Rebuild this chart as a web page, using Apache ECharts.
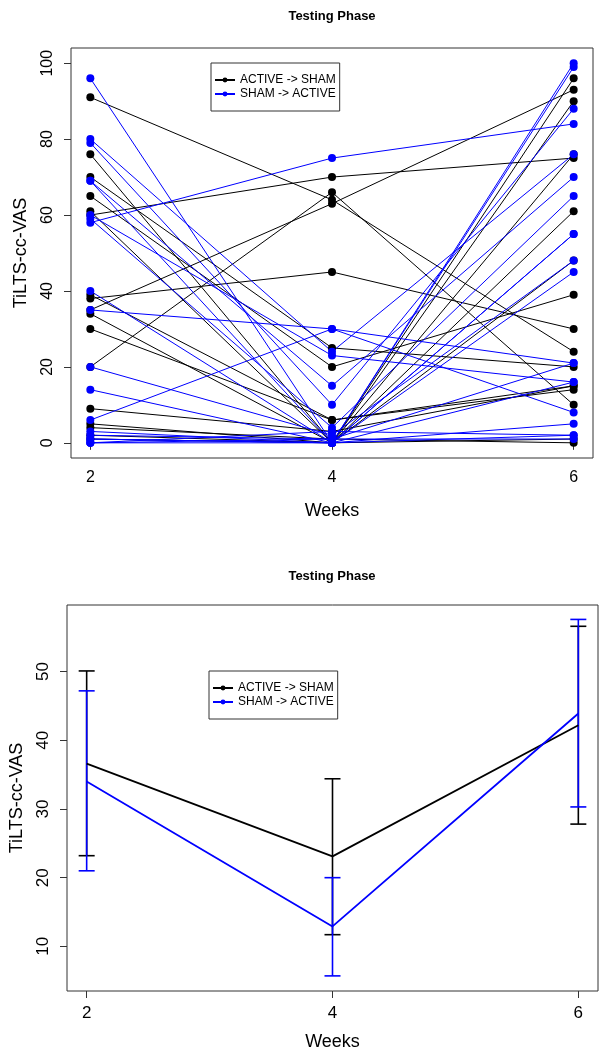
<!DOCTYPE html>
<html>
<head>
<meta charset="utf-8">
<script src="https://cdn.jsdelivr.net/npm/echarts@6/dist/echarts.min.js"></script>
<style>
html, body { margin: 0; padding: 0; background: #fff; }
#charts { width: 600px; height: 1055px; }
</style>
</head>
<body>
<div id="charts"></div>
<script>
// weeks on the x axis
var weeks = [2, 4, 6];
var groupNames = ['ACTIVE -> SHAM', 'SHAM -> ACTIVE'];

// one row per subject: score at week 2, 4, 6
var activeToSham = [
    [91, 64, 24], [76, 0, 96], [70, 25, 20], [65, 20, 39], [61, 0, 90],
    [60, 70, 75], [39, 6, 15], [38, 45, 30], [35, 63, 93], [34, 0, 61],
    [30, 6, 14], [20, 66, 10], [9, 3, 15], [5, 0, 1], [4, 1, 0],
    [2, 0, 76], [1, 0, 48]
];
var shamToActive = [
    [96, 0, 100], [80, 24, 76], [79, 10, 88], [69, 0, 99], [69, 15, 70],
    [60, 23, 16], [59, 4, 65], [58, 75, 84], [40, 0, 55], [35, 30, 21],
    [20, 2, 48], [14, 0, 45], [6, 30, 8], [3, 0, 5], [1, 0, 2],
    [0, 1, 1], [0, 3, 2], [0, 0, 55], [2, 1, 21], [1, 0, 16]
];

// group means and error bar ends (bottom panel)
var meanActive = [36.6, 23.1, 42.2];
var lowActive = [23.2, 11.7, 27.8];
var highActive = [50.1, 34.4, 56.6];
var meanSham = [34.0, 12.9, 43.9];
var lowSham = [21.0, 5.7, 30.3];
var highSham = [47.2, 20.0, 57.6];

var topTicks = [0, 20, 40, 60, 80, 100];
var bottomTicks = [10, 20, 30, 40, 50];

var BLACK = '#000000';
var BLUE = '#0000ff';
var FONT = 'Liberation Sans, Arial, sans-serif';

function pairs(vals) {
    return weeks.map(function (w, i) { return [w, vals[i]]; });
}

function subjectSeries(rows, name, color) {
    return rows.map(function (row) {
        return {
            type: 'line',
            name: name,
            xAxisIndex: 0,
            yAxisIndex: 0,
            data: pairs(row),
            symbol: 'circle',
            symbolSize: 8,
            lineStyle: { color: color, width: 1 },
            itemStyle: { color: color },
            emphasis: { disabled: true },
            animation: false
        };
    });
}

function errorBar(color) {
    return function (params, api) {
        var x = api.value(0);
        var lo = api.coord([x, api.value(1)]);
        var hi = api.coord([x, api.value(2)]);
        var w = 8;
        var st = { stroke: color, lineWidth: 1.6 };
        return {
            type: 'group',
            children: [
                { type: 'line', shape: { x1: lo[0], y1: lo[1], x2: hi[0], y2: hi[1] }, style: st },
                { type: 'line', shape: { x1: lo[0] - w, y1: lo[1], x2: lo[0] + w, y2: lo[1] }, style: st },
                { type: 'line', shape: { x1: hi[0] - w, y1: hi[1], x2: hi[0] + w, y2: hi[1] }, style: st }
            ]
        };
    };
}

function barData(lo, hi) {
    return weeks.map(function (w, i) { return [w, lo[i], hi[i]]; });
}

function xAxis(gridIndex, fontSize, margin, gap) {
    return {
        type: 'value',
        gridIndex: gridIndex,
        min: 1.84,
        max: 6.16,
        name: 'Weeks',
        nameLocation: 'middle',
        nameGap: gap,
        nameTextStyle: { fontSize: 18, color: '#000', fontFamily: FONT },
        axisLine: { show: false },
        axisTick: { show: true, length: 7, customValues: weeks, lineStyle: { color: '#333' } },
        axisLabel: { customValues: weeks, fontSize: fontSize, color: '#000', margin: margin, fontFamily: FONT },
        splitLine: { show: false }
    };
}

function yAxis(gridIndex, min, max, ticks, fontSize) {
    return {
        type: 'value',
        gridIndex: gridIndex,
        min: min,
        max: max,
        name: 'TiLTS-cc-VAS',
        nameLocation: 'middle',
        nameGap: 41,
        nameTextStyle: { fontSize: 18, color: '#000', fontFamily: FONT },
        axisLine: { show: false },
        axisTick: { show: true, length: 7, customValues: ticks, lineStyle: { color: '#333' } },
        axisLabel: { customValues: ticks, rotate: 90, fontSize: fontSize, color: '#000', margin: 15, fontFamily: FONT },
        splitLine: { show: false }
    };
}

function legend(left, top) {
    return {
        data: groupNames,
        orient: 'vertical',
        left: left,
        top: top,
        padding: [11, 4, 11, 3],
        itemGap: 2,
        itemWidth: 20,
        itemHeight: 6,
        borderColor: '#333',
        borderWidth: 1,
        borderRadius: 0,
        selectedMode: false,
        textStyle: { fontSize: 12, color: '#000', fontFamily: FONT }
    };
}

var series = []
    .concat(subjectSeries(activeToSham, groupNames[0], BLACK))
    .concat(subjectSeries(shamToActive, groupNames[1], BLUE));

series.push({
    type: 'line', name: groupNames[0], xAxisIndex: 1, yAxisIndex: 1,
    data: pairs(meanActive), showSymbol: false, symbol: 'circle',
    lineStyle: { color: BLACK, width: 1.8 }, itemStyle: { color: BLACK }, animation: false
});
series.push({
    type: 'line', name: groupNames[1], xAxisIndex: 1, yAxisIndex: 1,
    data: pairs(meanSham), showSymbol: false, symbol: 'circle',
    lineStyle: { color: BLUE, width: 1.8 }, itemStyle: { color: BLUE }, animation: false
});
series.push({
    type: 'custom', xAxisIndex: 1, yAxisIndex: 1,
    data: barData(lowActive, highActive), encode: { x: 0, y: [1, 2] },
    renderItem: errorBar(BLACK), animation: false
});
series.push({
    type: 'custom', xAxisIndex: 1, yAxisIndex: 1,
    data: barData(lowSham, highSham), encode: { x: 0, y: [1, 2] },
    renderItem: errorBar(BLUE), animation: false
});

var option = {
    backgroundColor: '#fff',
    animation: false,
    textStyle: { fontFamily: FONT },
    title: [
        { text: 'Testing Phase', left: 332, top: 10, textAlign: 'center', padding: 0,
          textStyle: { fontSize: 13, fontWeight: 'bold', color: '#000', fontFamily: FONT } },
        { text: 'Testing Phase', left: 332, top: 570, textAlign: 'center', padding: 0,
          textStyle: { fontSize: 13, fontWeight: 'bold', color: '#000', fontFamily: FONT } }
    ],
    legend: [legend(211, 63), legend(209, 671)],
    grid: [
        { left: 71, right: 7, top: 48, height: 410, show: true, borderColor: '#333', borderWidth: 1 },
        { left: 66.5, right: 2, top: 605, height: 386, show: true, borderColor: '#333', borderWidth: 1 }
    ],
    xAxis: [xAxis(0, 16, 12, 44), xAxis(1, 17, 14, 42)],
    yAxis: [yAxis(0, -4, 104, topTicks, 16), yAxis(1, 3.5, 59.7, bottomTicks, 17)],
    series: series
};

var myChart = echarts.init(document.getElementById('charts'), null, { renderer: 'canvas' });
myChart.setOption(option);
</script>
</body>
</html>
